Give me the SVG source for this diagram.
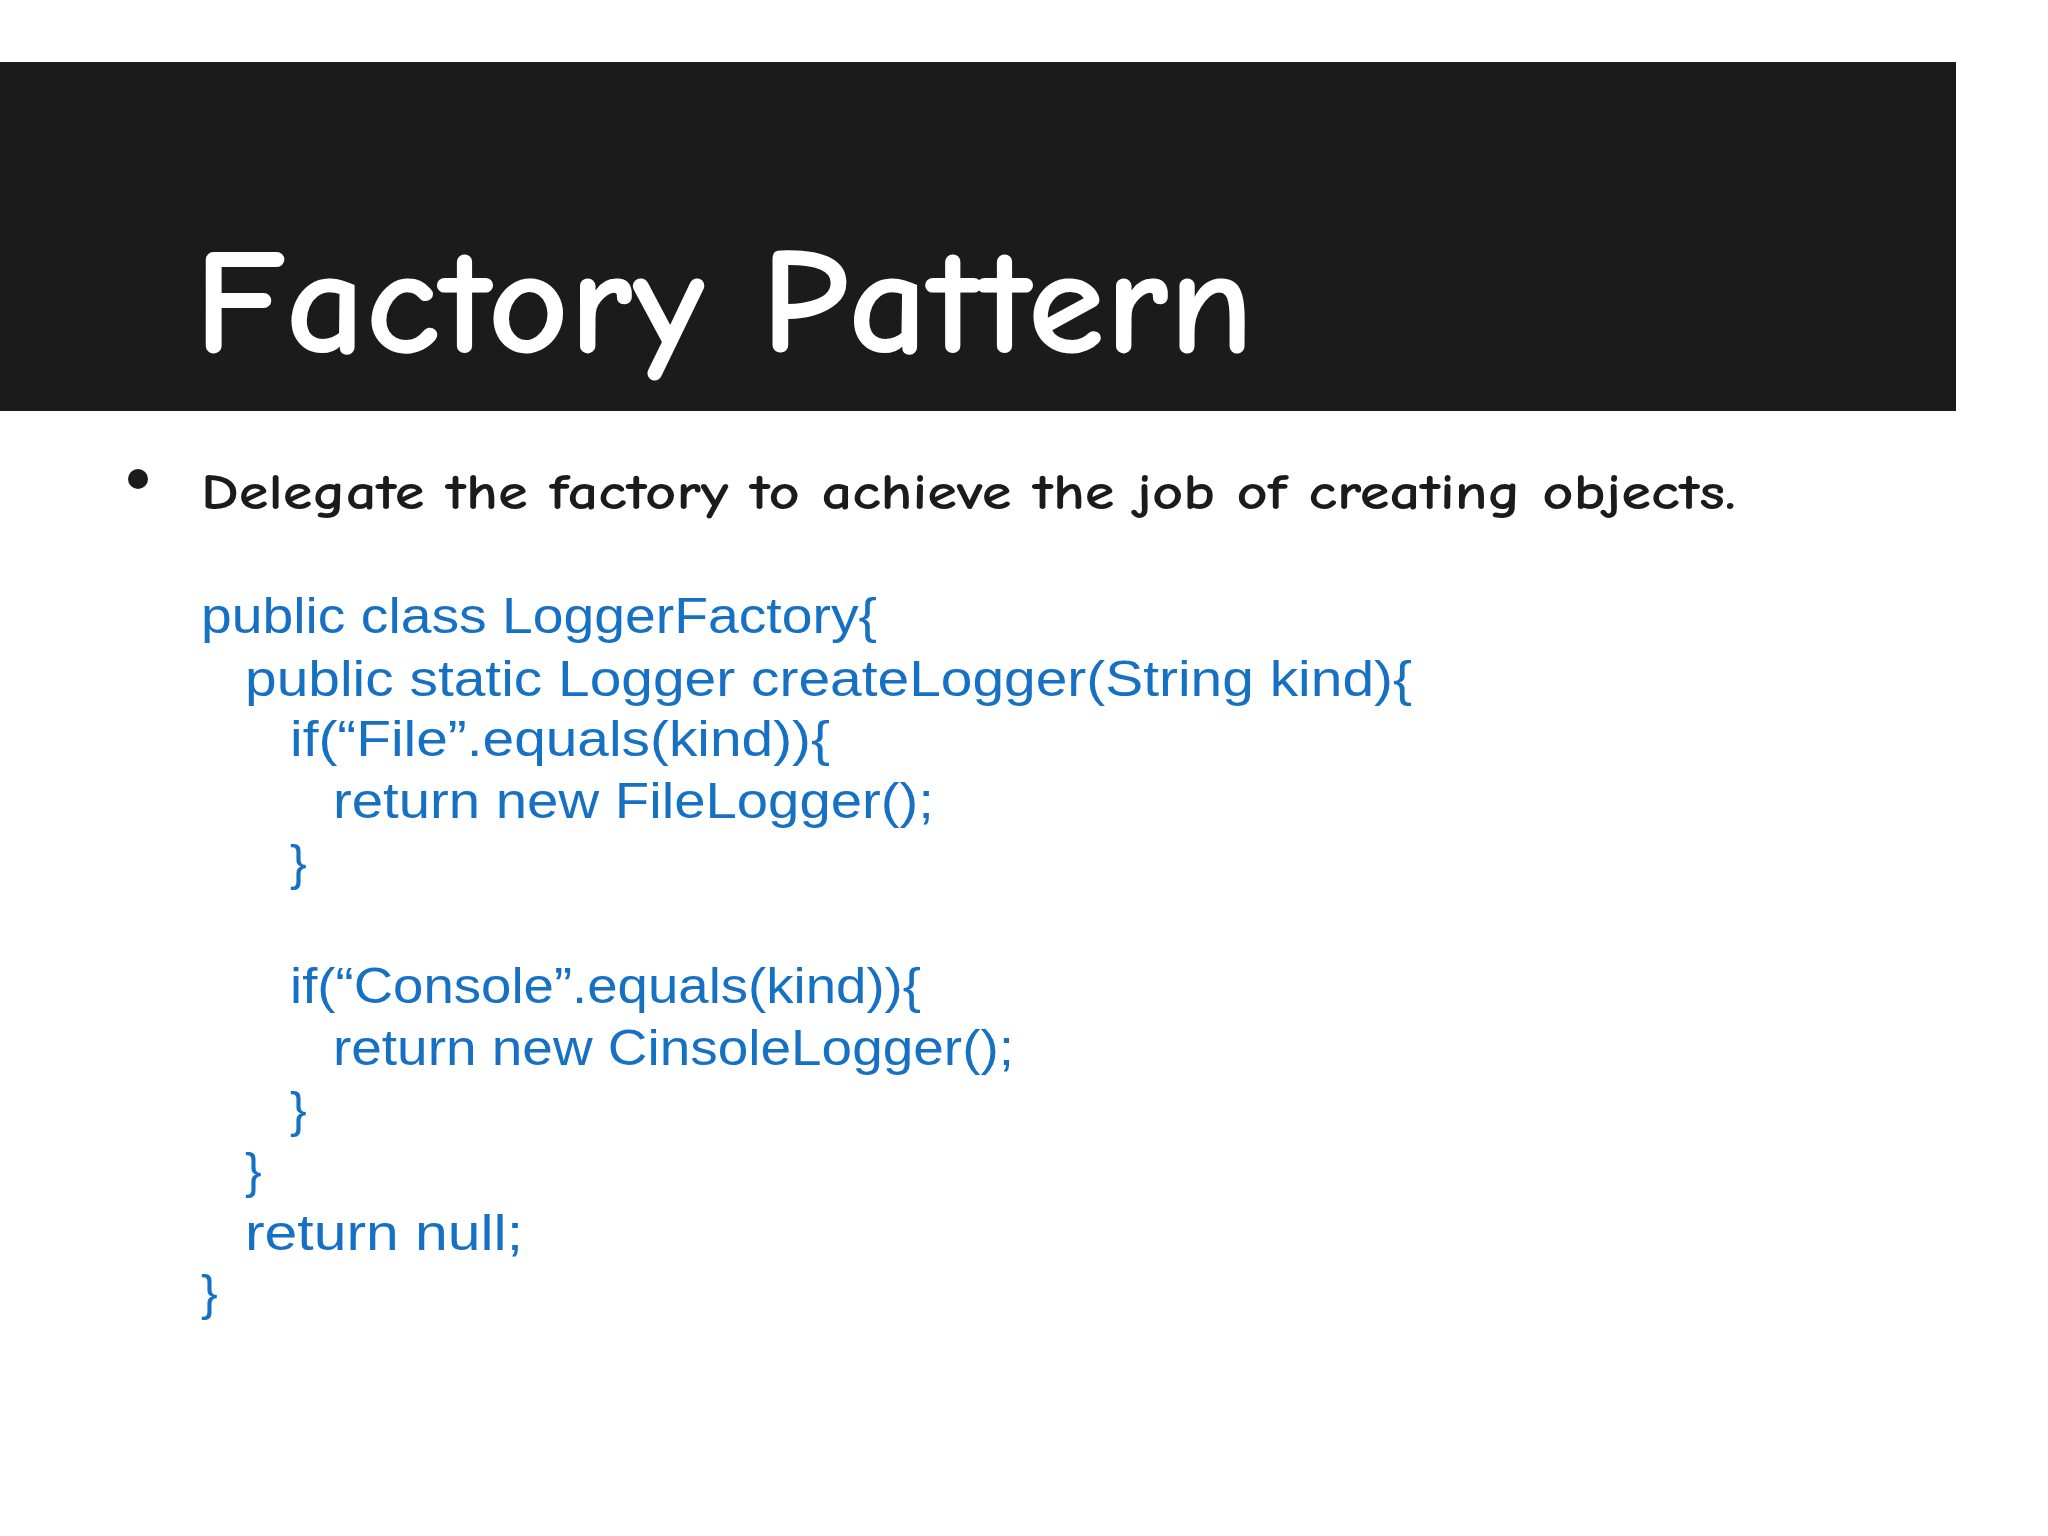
<svg xmlns="http://www.w3.org/2000/svg" width="2048" height="1536" viewBox="0 0 2048 1536">
<style>
.t{font-family:"Comic Neue","Liberation Sans","DejaVu Sans",sans-serif;font-weight:bold}
.c{font-family:"Liberation Sans","DejaVu Sans",sans-serif;fill:#1670c4;font-size:50px}
</style>
<rect width="2048" height="1536" fill="#ffffff"/>
<rect x="0" y="62" width="1956" height="349" fill="#1b1b1b"/>
<text class="t" x="194" y="352" font-size="150" fill="#ffffff" textLength="1060" lengthAdjust="spacingAndGlyphs">Factory Pattern</text>
<circle cx="138" cy="479" r="10" fill="#1b1b1b"/>
<text class="t" x="201" y="509" font-size="50" fill="#1b1b1b" textLength="1535" lengthAdjust="spacingAndGlyphs">Delegate the factory to achieve the job of creating objects.</text>
<g id="code">
<text class="c" x="201" y="633" textLength="676" lengthAdjust="spacingAndGlyphs">public class LoggerFactory{</text>
<text class="c" x="245" y="696" textLength="1167" lengthAdjust="spacingAndGlyphs">public static Logger createLogger(String kind){</text>
<text class="c" x="290" y="756" textLength="540" lengthAdjust="spacingAndGlyphs">if(“File”.equals(kind)){</text>
<text class="c" x="333" y="818" textLength="601" lengthAdjust="spacingAndGlyphs">return new FileLogger();</text>
<text class="c" x="290" y="880">}</text>
<text class="c" x="290" y="1003" textLength="631" lengthAdjust="spacingAndGlyphs">if(“Console”.equals(kind)){</text>
<text class="c" x="333" y="1065" textLength="681" lengthAdjust="spacingAndGlyphs">return new CinsoleLogger();</text>
<text class="c" x="290" y="1127">}</text>
<text class="c" x="245" y="1188">}</text>
<text class="c" x="245" y="1250" textLength="278" lengthAdjust="spacingAndGlyphs">return null;</text>
<text class="c" x="201" y="1310">}</text>
</g>
</svg>
